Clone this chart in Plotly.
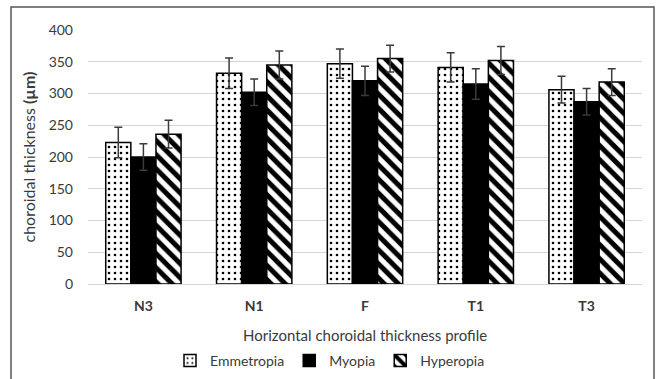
import plotly.graph_objects as go

categories = ["N3", "N1", "F", "T1", "T3"]
emmetropia = [223, 332, 347, 341, 306]
emmetropia_err = [24, 24, 23, 23, 21]
myopia = [200, 302, 320, 315, 287]
myopia_err = [21, 21, 23, 24, 21]
hyperopia = [236, 345, 355, 352, 318]
hyperopia_err = [22, 22, 21, 22, 21]

FONT = "Lato, 'Open Sans', sans-serif"
TXT = "#3a3a3a"
ERR_COLOR = "#3a3a3a"

def err(vals):
    return dict(type="data", array=vals, visible=True, color=ERR_COLOR, thickness=1.5, width=4)

fig = go.Figure()
fig.add_trace(go.Bar(
    name="Emmetropia", x=categories, y=emmetropia, error_y=err(emmetropia_err),
    marker=dict(color="white", line=dict(color="black", width=1.5),
                pattern=dict(shape=".", fgcolor="black", bgcolor="white", size=6, solidity=0.15, fgopacity=1)),
))
fig.add_trace(go.Bar(
    name="Myopia", x=categories, y=myopia, error_y=err(myopia_err),
    marker=dict(color="black", line=dict(color="black", width=1.5)),
))
fig.add_trace(go.Bar(
    name="Hyperopia", x=categories, y=hyperopia, error_y=err(hyperopia_err),
    marker=dict(color="white", line=dict(color="black", width=1.5),
                pattern=dict(shape="\\", fgcolor="black", bgcolor="white", size=10, solidity=0.5, fgopacity=1)),
))

L, R, T, B = 88, 18, 30, 95
W, H = 660, 379
pw, ph = W - L - R, H - T - B
base = T + ph  # pixel y of the zero line

def py(ypix):
    return (base - ypix) / ph

def px(xpix):
    return (xpix - L) / pw

fig.update_layout(
    width=W, height=H,
    margin=dict(l=L, r=R, t=T, b=B, autoexpand=False),
    paper_bgcolor="white", plot_bgcolor="white",
    barmode="group", bargap=0.32, bargroupgap=0,
    font=dict(family=FONT, color=TXT, size=13),
    showlegend=True,
    legend=dict(orientation="h", x=0.5, xanchor="center", xref="container",
                yref="container", y=1 - 361 / H, yanchor="middle",
                font=dict(size=14, color=TXT), itemwidth=30, traceorder="normal",
                bgcolor="rgba(0,0,0,0)"),
    xaxis=dict(showgrid=False, showline=False, ticks="", automargin=False,
               tickfont=dict(size=14, color=TXT, family=FONT),
               tickprefix="<b>", ticksuffix="</b>", ticklabelstandoff=12),
    yaxis=dict(range=[0, 400], dtick=50, showgrid=True, gridcolor="#d4d4d4", gridwidth=1,
               zeroline=True, zerolinecolor="#d4d4d4", zerolinewidth=1, automargin=False,
               showline=False, ticks="", ticklabelstandoff=14,
               tickfont=dict(size=14, color=TXT),
               title=dict(text="choroidal thickness <b>(µm)</b>", font=dict(size=16, color=TXT), standoff=9)),
    annotations=[dict(text="Horizontal choroidal thickness profile", xref="paper", yref="paper",
                      x=0.5, y=py(335), xanchor="center", yanchor="middle", showarrow=False,
                      font=dict(size=15, color=TXT, family=FONT))],
    shapes=[dict(type="rect", xref="paper", yref="paper",
                 x0=px(11), x1=px(654), y0=py(7), y1=py(390),
                 line=dict(color="#555555", width=1.5), fillcolor="rgba(0,0,0,0)", layer="below")],
)

fig.write_html("out.html")
